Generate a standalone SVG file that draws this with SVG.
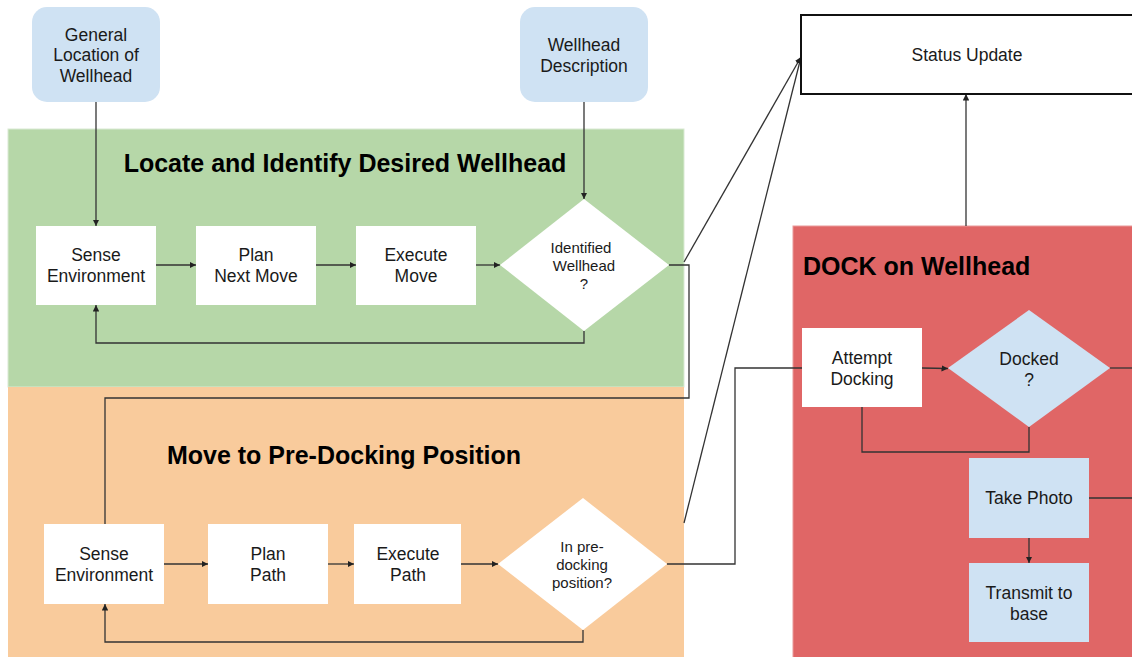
<svg xmlns="http://www.w3.org/2000/svg" width="1132" height="657" viewBox="0 0 1132 657">
<style>
text{font-family:"Liberation Sans",Arial,sans-serif;fill:#1a1a1a;text-anchor:middle}
.lbl{font-size:17.5px}
.sm{font-size:15px}
.title{font-size:25px;font-weight:bold;fill:#000}
.blue{fill:#cfe2f3}
.white{fill:#fff}
.c{fill:none;stroke:#333;stroke-width:1.3}
.ca{fill:none;stroke:#333;stroke-width:1.3;marker-end:url(#ah)}
</style>
<defs>
<marker id="ah" viewBox="0 0 10 10" refX="10" refY="5" markerWidth="5" markerHeight="5" orient="auto" markerUnits="strokeWidth">
<path d="M0,0 L10,5 L0,10 z" fill="#222"/>
</marker>
</defs>
<rect width="1132" height="657" fill="#fff"/>
<g id="region-locate">
<rect x="8" y="129" width="676" height="258" fill="#b6d7a8" stroke="#d9ead3" stroke-width="1"/>
<text class="title" x="345" y="172">Locate and Identify Desired Wellhead</text>
</g>
<g id="region-move">
<rect x="8" y="387" width="676" height="272" fill="#f9cb9c"/>
<text class="title" x="344" y="464">Move to Pre-Docking Position</text>
</g>
<g id="region-dock">
<rect x="793" y="226" width="345" height="435" fill="#e06666" stroke="#ea9999" stroke-width="1"/>
<text class="title" x="803" y="275" style="text-anchor:start">DOCK on Wellhead</text>
</g>
<g id="connectors">
<path class="ca" d="M96,102 V226"/>
<path class="ca" d="M584,102 V199"/>
<path class="ca" d="M156,265 H196"/>
<path class="ca" d="M316,265 H356"/>
<path class="ca" d="M476,265 H500"/>
<path class="ca" d="M584,331 V343 H96 V305"/>
<path class="c" d="M669,265 H689 V398 H105 V524"/>
<path class="ca" d="M684,262 L801,57"/>
<path class="ca" d="M684,523 L801,57"/>
<path class="ca" d="M164,564 H208"/>
<path class="ca" d="M328,564 H354"/>
<path class="ca" d="M461,564 H498"/>
<path class="ca" d="M583,630 V642 H105 V604"/>
<path class="c" d="M667,564 H735 V368 H802"/>
<path class="ca" d="M922,368 L948,368.5"/>
<path class="c" d="M1029,427 V452 H862 V407"/>
<path class="c" d="M1110,368 H1132"/>
<path class="c" d="M1089,498 H1132"/>
<path class="ca" d="M1029,538 V563"/>
<path class="ca" d="M966,226 V94"/>
</g>
<g id="n-general-location">
<rect class="blue" x="32" y="7" width="128" height="95" rx="15"/>
<text class="lbl" x="96" y="41">General</text>
<text class="lbl" x="96" y="61">Location of</text>
<text class="lbl" x="96" y="82">Wellhead</text>
</g>
<g id="n-wellhead-description">
<rect class="blue" x="520" y="7" width="128" height="95" rx="15"/>
<text class="lbl" x="584" y="51">Wellhead</text>
<text class="lbl" x="584" y="72">Description</text>
</g>
<g id="n-status-update">
<rect x="801" y="15" width="340" height="79" fill="#fff" stroke="#111" stroke-width="2"/>
<text class="lbl" x="967" y="61">Status Update</text>
</g>
<g id="n-sense-1">
<rect class="white" x="36" y="226" width="120" height="79"/>
<text class="lbl" x="96" y="261">Sense</text>
<text class="lbl" x="96" y="282">Environment</text>
</g>
<g id="n-plan-next-move">
<rect class="white" x="196" y="226" width="120" height="79"/>
<text class="lbl" x="256" y="261">Plan</text>
<text class="lbl" x="256" y="282">Next Move</text>
</g>
<g id="n-execute-move">
<rect class="white" x="356" y="226" width="120" height="79"/>
<text class="lbl" x="416" y="261">Execute</text>
<text class="lbl" x="416" y="282">Move</text>
</g>
<g id="n-identified">
<polygon class="white" points="584,199 669,265 584,331 500,265"/>
<text class="sm" x="581" y="253">Identified</text>
<text class="sm" x="584" y="271">Wellhead</text>
<text class="sm" x="584" y="289">?</text>
</g>
<g id="n-sense-2">
<rect class="white" x="44" y="524" width="120" height="80"/>
<text class="lbl" x="104" y="560">Sense</text>
<text class="lbl" x="104" y="581">Environment</text>
</g>
<g id="n-plan-path">
<rect class="white" x="208" y="524" width="120" height="80"/>
<text class="lbl" x="268" y="560">Plan</text>
<text class="lbl" x="268" y="581">Path</text>
</g>
<g id="n-execute-path">
<rect class="white" x="354" y="524" width="107" height="80"/>
<text class="lbl" x="408" y="560">Execute</text>
<text class="lbl" x="408" y="581">Path</text>
</g>
<g id="n-in-predocking">
<polygon class="white" points="583,498 667,564 583,630 498,564"/>
<text class="sm" x="582" y="552">In pre-</text>
<text class="sm" x="582" y="570">docking</text>
<text class="sm" x="582" y="588">position?</text>
</g>
<g id="n-attempt-docking">
<rect class="white" x="802" y="328" width="120" height="79"/>
<text class="lbl" x="862" y="364">Attempt</text>
<text class="lbl" x="862" y="385">Docking</text>
</g>
<g id="n-docked">
<polygon class="blue" points="1029,310 1110,368 1029,427 948,368"/>
<text class="lbl" x="1029" y="365">Docked</text>
<text class="lbl" x="1029" y="386">?</text>
</g>
<g id="n-take-photo">
<rect class="blue" x="969" y="458" width="120" height="80"/>
<text class="lbl" x="1029" y="504">Take Photo</text>
</g>
<g id="n-transmit">
<rect class="blue" x="969" y="563" width="120" height="79"/>
<text class="lbl" x="1029" y="599">Transmit to</text>
<text class="lbl" x="1029" y="620">base</text>
</g>
</svg>
